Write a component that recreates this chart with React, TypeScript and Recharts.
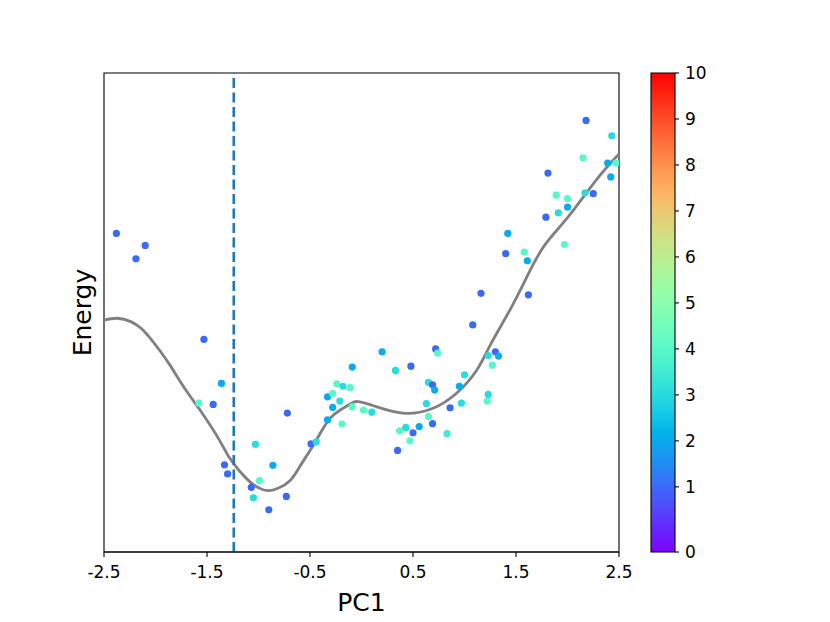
import React from "react";
import {
  ComposedChart,
  BarChart,
  Bar,
  Scatter,
  Line,
  XAxis,
  YAxis,
  ReferenceLine,
  ReferenceArea,
} from "recharts";

// scatter samples: PC1, energy and the colour value of each point
const pc1 = [
  -2.38, -2.19, -2.1, -1.53, -1.36, -1.58, -1.44, -0.72, -1.03, -1.33, -1.3, -0.86, -0.99, -1.07, -1.05, -0.73,
  -0.9, -0.49, -0.44, -0.33, -0.28, -0.21, -0.33, -0.28, -0.24, -0.18, -0.11, -0.09, -0.19, -0.09, 0.02, 0.1,
  0.2, 0.33, 0.48, 0.37, 0.43, 0.5, 0.47, 0.56, 0.35, 0.65, 0.69, 0.71, 0.72, 0.74, 0.63, 0.65, 0.69, 0.86,
  0.83, 0.97, 0.95, 1.0, 1.22, 1.23, 1.23, 1.16, 1.08, 1.3, 1.33, 1.27, 1.62, 2.18, 2.43, 2.15, 2.39, 2.47,
  2.42, 1.81, 1.89, 2.0, 2.17, 2.25, 2.0, 1.91, 1.79, 1.97, 1.42, 1.4, 1.58, 1.61,
];
const energy = [
  6.65, 6.12, 6.4, 4.44, 3.52, 3.11, 3.08, 2.9, 2.25, 1.82, 1.63, 1.81, 1.49, 1.35, 1.13, 1.16,
  0.88, 2.26, 2.3, 2.76, 3.02, 3.15, 3.24, 3.31, 3.51, 3.46, 3.43, 3.03, 2.67, 3.86, 2.96, 2.92,
  4.18, 3.79, 3.88, 2.53, 2.6, 2.49, 2.32, 2.62, 2.12, 3.54, 3.49, 3.38, 4.24, 4.15, 3.1, 2.83, 2.68, 3.01,
  2.47, 3.11, 3.46, 3.7, 3.15, 3.29, 4.1, 5.4, 4.74, 4.18, 4.09, 3.9, 5.37, 9.01, 8.69, 8.23, 8.12, 8.12,
  7.83, 7.91, 7.45, 7.38, 7.5, 7.48, 7.2, 7.08, 6.99, 6.42, 6.65, 6.23, 6.26, 6.08,
];
const level = [
  1, 1, 1, 1, 2, 4, 1, 1, 3, 1, 1, 2, 4, 1, 3, 1,
  1, 1, 3, 2, 2, 3, 2, 4, 4, 3, 4, 4, 4, 2, 4, 3,
  2, 3, 1, 4, 3, 1, 4, 2, 1, 3, 1, 2, 1, 4, 3, 4, 1, 1,
  3.5, 3, 2, 3, 4, 3, 3, 1, 1, 1, 2, 4, 1, 1, 3, 4, 2, 4,
  2, 1, 4, 4, 3, 1, 2, 3, 1, 4, 2, 1, 4, 2,
];

// fitted energy curve
const curvePc1 = [
  -2.5, -2.37, -2.24, -2.14, -2.05, -1.95, -1.85, -1.76, -1.66, -1.57, -1.47, -1.37, -1.28, -1.18, -1.08,
  -0.99, -0.91, -0.81, -0.69, -0.6, -0.5, -0.4, -0.31, -0.21, -0.11, -0.03, 0.15, 0.4, 0.67, 0.92, 1.12,
  1.25, 1.44, 1.6, 1.77, 2.0, 2.28, 2.5,
];
const curveEnergy = [
  4.84, 4.88, 4.81, 4.67, 4.46, 4.18, 3.87, 3.56, 3.24, 2.97, 2.65, 2.3, 1.96, 1.68, 1.46,
  1.33, 1.28, 1.33, 1.5, 1.78, 2.12, 2.48, 2.78, 2.96, 3.09, 3.14, 3.03, 2.9, 2.98, 3.31, 3.8,
  4.32, 5.05, 5.72, 6.38, 6.98, 7.77, 8.31,
];

const cutoffPc1 = -1.24;

const pcTicks = [-2.5, -1.5, -0.5, 0.5, 1.5, 2.5];
const pcTickLabels = ["-2.5", "-1.5", "-0.5", "0.5", "1.5", "2.5"];
const cbTicks = [0, 1, 2, 3, 4, 5, 6, 7, 8, 9, 10];
const cbRange = [{ name: "level", top: 1 }];

const points = pc1.map((x, i) => ({ x, y: energy[i], c: level[i] }));
const curve = curvePc1.map((x, i) => ({ x, y: curveEnergy[i] }));

const FONT = "DejaVu Sans, sans-serif";

// colour bar spacing: 0..1 takes a bigger share, 1..10 are even
function norm(v: number) {
  if (v <= 1) return v * 0.136;
  return 0.136 + ((v - 1) * 0.864) / 9;
}

// matplotlib "rainbow"
function rainbow(t: number) {
  const r = Math.min(1, Math.abs(2 * t - 0.5));
  const g = Math.sin(Math.PI * t);
  const b = Math.cos((Math.PI * t) / 2);
  const h = (n: number) => Math.round(Math.max(0, Math.min(1, n)) * 255).toString(16).padStart(2, "0");
  return `#${h(r)}${h(g)}${h(b)}`;
}

const gradStops = Array.from({ length: 21 }, (_, i) => i / 20);

function Dot(props: any) {
  const { cx, cy, payload } = props;
  if (cx == null || cy == null) return null;
  return <circle cx={cx} cy={cy} r={3.6} fill={rainbow(norm(payload.c))} />;
}

export default function App() {
  const tick = { fill: "#000", fontSize: 17, fontFamily: FONT };
  const frame = { stroke: "#000", strokeWidth: 1.1 };
  return (
    <div style={{ position: "absolute", left: 0, top: 0, width: 830, height: 622, background: "#fff" }}>
      <div style={{ position: "absolute", left: 0, top: 0 }}>
        <ComposedChart width={830} height={622} margin={{ top: 73, right: 211, bottom: 0, left: 104 }}>
          <XAxis
            dataKey="x"
            type="number"
            domain={[-2.5, 2.5]}
            ticks={pcTicks}
            tickFormatter={(v: number) => pcTickLabels[pcTicks.indexOf(v)]}
            allowDataOverflow
            height={70}
            tickSize={5}
            tickMargin={9}
            axisLine={frame}
            tickLine={frame}
            tick={tick}
            label={{
              content: (p: any) => (
                <text
                  x={p.viewBox.x + p.viewBox.width / 2}
                  y={611}
                  textAnchor="middle"
                  fontSize={25}
                  fontFamily={FONT}
                  fill="#000"
                >
                  PC1
                </text>
              ),
            }}
          />
          <YAxis type="number" dataKey="y" domain={[0, 10]} allowDataOverflow hide />
          <Line
            data={curve}
            dataKey="y"
            type="natural"
            stroke="#808080"
            strokeWidth={2.8}
            dot={false}
            activeDot={false}
            isAnimationActive={false}
          />
          <Scatter data={points} dataKey="y" shape={<Dot />} isAnimationActive={false} />
          <ReferenceLine x={cutoffPc1} stroke="#1f77b4" strokeWidth={2.6} strokeDasharray="10 4.5" />
          <ReferenceArea
            x1={-2.5}
            x2={2.5}
            y1={0}
            y2={10}
            fill="none"
            stroke="#000"
            strokeWidth={1.1}
            label={{
              content: (p: any) => {
                const cx = 91;
                const cy = p.viewBox.y + p.viewBox.height / 2;
                return (
                  <text
                    x={cx}
                    y={cy}
                    transform={`rotate(-90 ${cx} ${cy})`}
                    textAnchor="middle"
                    fontSize={25}
                    fontFamily={FONT}
                    fill="#000"
                  >
                    Energy
                  </text>
                );
              },
            }}
          />
        </ComposedChart>
      </div>
      <div style={{ position: "absolute", left: 0, top: 0 }}>
        <BarChart
          width={830}
          height={622}
          data={cbRange}
          barCategoryGap={0}
          margin={{ top: 73, right: 115, bottom: 70, left: 651 }}
        >
          <defs>
            <linearGradient id="cbGrad" x1="0" y1="1" x2="0" y2="0">
              {gradStops.map((t) => (
                <stop key={t} offset={`${t * 100}%`} stopColor={rainbow(t)} />
              ))}
            </linearGradient>
          </defs>
          <XAxis dataKey="name" hide />
          <YAxis
            orientation="right"
            type="number"
            domain={[0, 1]}
            ticks={cbTicks.map(norm)}
            tickFormatter={(_v: number, i: number) => String(cbTicks[i])}
            interval={0}
            width={40}
            tickSize={4}
            tickMargin={6}
            axisLine={false}
            tickLine={frame}
            tick={tick}
          />
          <Bar dataKey="top" fill="url(#cbGrad)" stroke="#000" strokeWidth={1.1} isAnimationActive={false} />
        </BarChart>
      </div>
    </div>
  );
}
